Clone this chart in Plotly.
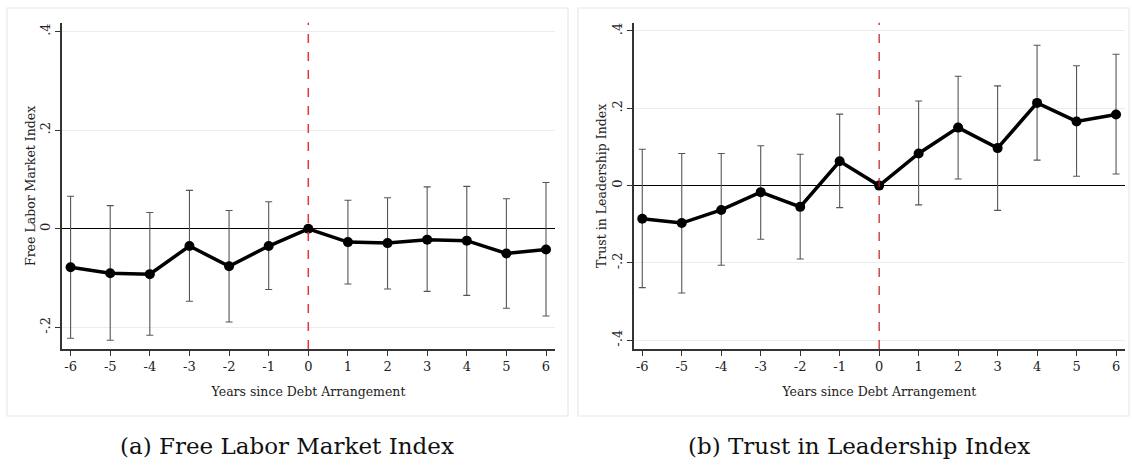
import plotly.graph_objects as go

years = [-6, -5, -4, -3, -2, -1, 0, 1, 2, 3, 4, 5, 6]

# (a) Free Labor Market Index
fl_coef = [-0.078, -0.090, -0.092, -0.035, -0.076, -0.035, 0.0, -0.027, -0.029, -0.022, -0.024, -0.050, -0.042]
fl_hi = [0.066, 0.047, 0.033, 0.078, 0.037, 0.055, 0.0, 0.058, 0.063, 0.085, 0.086, 0.061, 0.094]
fl_lo = [-0.222, -0.226, -0.216, -0.147, -0.189, -0.123, 0.0, -0.112, -0.122, -0.127, -0.135, -0.161, -0.177]

# (b) Trust in Leadership Index
tl_coef = [-0.086, -0.097, -0.063, -0.017, -0.055, 0.063, 0.0, 0.083, 0.150, 0.097, 0.214, 0.166, 0.184]
tl_hi = [0.094, 0.083, 0.083, 0.103, 0.081, 0.185, 0.0, 0.219, 0.283, 0.258, 0.363, 0.310, 0.340]
tl_lo = [-0.264, -0.278, -0.206, -0.139, -0.190, -0.057, 0.0, -0.050, 0.017, -0.064, 0.066, 0.024, 0.030]

fl_yticks = [0.4, 0.2, 0, -0.2]
fl_ytext = [".4", ".2", "0", "-.2"]
tl_yticks = [0.4, 0.2, 0, -0.2, -0.4]
tl_ytext = [".4", ".2", "0", "-.2", "-.4"]

x_title = "Years since Debt Arrangement"
fl_title = "Free Labor Market Index"
tl_title = "Trust in Leadership Index"
cap_a = "(a) Free Labor Market Index"
cap_b = "(b) Trust in Leadership Index"

W, H = 1133, 464
SERIF = "DejaVu Serif"

fig = go.Figure()

def add_panel(coef, lo, hi, xa, ya):
    plus = [h - c for h, c in zip(hi, coef)]
    minus = [c - l for c, l in zip(coef, lo)]
    fig.add_trace(go.Scatter(
        x=years, y=coef, mode="lines+markers", xaxis=xa, yaxis=ya,
        line=dict(color="black", width=3.5),
        marker=dict(color="black", size=10),
        error_y=dict(type="data", symmetric=False, array=plus, arrayminus=minus,
                     color="#555555", thickness=1.1, width=3.5),
        showlegend=False, hoverinfo="skip"))

add_panel(fl_coef, fl_lo, fl_hi, "x", "y")
add_panel(tl_coef, tl_lo, tl_hi, "x2", "y2")

yd = [1 - 349 / H, 1 - 22.8 / H]
xd1 = [62 / W, 555 / W]
xd2 = [633.7 / W, 1125 / W]

common_x = dict(range=[-6.217, 6.227], tickmode="array", tickvals=years,
                ticktext=[str(v) for v in years], showgrid=False, zeroline=False,
                showline=True, linecolor="#333333", linewidth=1.5,
                ticks="outside", ticklen=5, tickcolor="#333333",
                tickfont=dict(family=SERIF, size=13, color="#222"),
                title=dict(text=x_title, font=dict(family=SERIF, size=12.5, color="#222"), standoff=14))
common_y = dict(tickangle=-90, showgrid=True, gridcolor="#e6eef0", gridwidth=1,
                zeroline=True, zerolinecolor="black", zerolinewidth=1.3,
                showline=True, linecolor="#333333", linewidth=1.5,
                ticks="outside", ticklen=5, tickcolor="#333333",
                tickfont=dict(family=SERIF, size=13, color="#222"))

fig.update_layout(
    width=W, height=H, margin=dict(l=0, r=0, t=0, b=0),
    paper_bgcolor="white", plot_bgcolor="white",
    xaxis=dict(domain=xd1, anchor="y", **common_x),
    yaxis=dict(domain=yd, anchor="x", range=[-0.2438, 0.4178], tickmode="array",
               tickvals=fl_yticks, ticktext=fl_ytext,
               title=dict(text=fl_title, font=dict(family=SERIF, size=12.5, color="#222"), standoff=0),
               **common_y),
    xaxis2=dict(domain=xd2, anchor="y2", **common_x),
    yaxis2=dict(domain=yd, anchor="x2", range=[-0.4228, 0.4212], tickmode="array",
                tickvals=tl_yticks, ticktext=tl_ytext,
                title=dict(text=tl_title, font=dict(family=SERIF, size=12.5, color="#222"), standoff=0),
                **common_y),
)

# red dashed reference lines at year 0
fig.add_shape(type="line", xref="x", yref="y domain", x0=0, x1=0, y0=0, y1=1,
              line=dict(color="#e8323a", width=1.5, dash="dash"), layer="above")
fig.add_shape(type="line", xref="x2", yref="y2 domain", x0=0, x1=0, y0=0, y1=1,
              line=dict(color="#c41a1a", width=1.2, dash="dash"), layer="above")

# panel frames
fig.add_shape(type="rect", xref="paper", yref="paper",
              x0=7 / W, x1=568 / W, y0=1 - 416 / H, y1=1 - 8 / H,
              line=dict(color="#e2eaec", width=1.2), layer="below")
fig.add_shape(type="rect", xref="paper", yref="paper",
              x0=578 / W, x1=1129 / W, y0=1 - 416 / H, y1=1 - 8 / H,
              line=dict(color="#e2eaec", width=1.2), layer="below")

# captions
fig.add_annotation(text=cap_a, xref="paper", yref="paper", x=287 / W, y=1 - 446 / H,
                   xanchor="center", yanchor="middle",
                   showarrow=False, font=dict(family=SERIF, size=23, color="#111"))
fig.add_annotation(text=cap_b, xref="paper", yref="paper", x=859 / W, y=1 - 446 / H,
                   xanchor="center", yanchor="middle",
                   showarrow=False, font=dict(family=SERIF, size=23, color="#111"))

fig.write_html("out.html")
